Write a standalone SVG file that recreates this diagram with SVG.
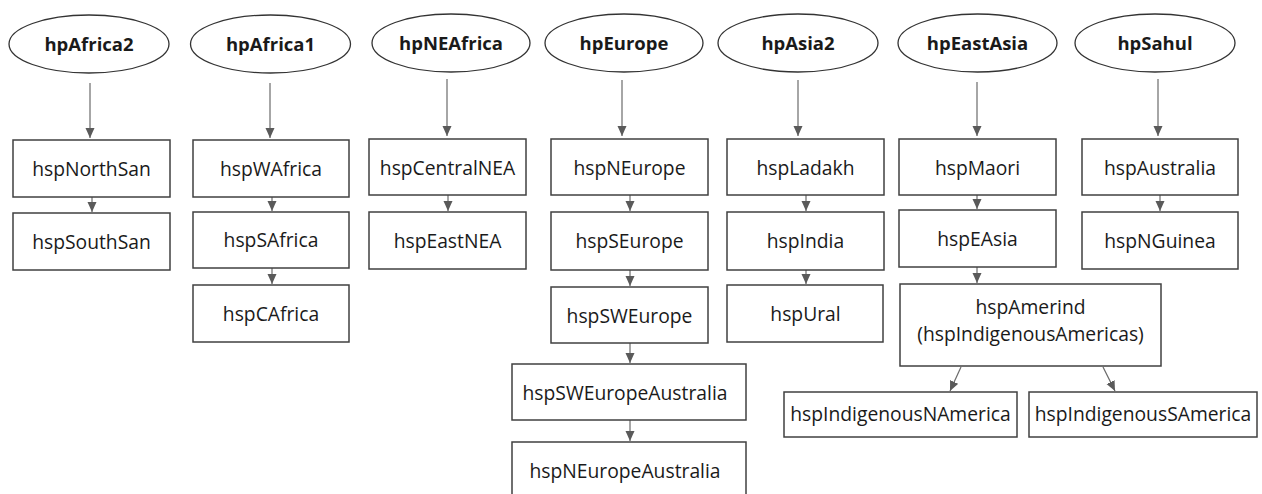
<svg xmlns="http://www.w3.org/2000/svg" width="1262" height="494" viewBox="0 0 1262 494">
<defs>
<style>
.ell{fill:#fff;stroke:#333;stroke-width:1.3}
.box{fill:#fff;stroke:#404040;stroke-width:1.5}
.hp{font-family:"Open Sans","DejaVu Sans",sans-serif;font-weight:bold;font-size:18.5px;fill:#1a1a1a;text-anchor:middle}
.hsp{font-family:"Open Sans","DejaVu Sans",sans-serif;font-size:19.3px;fill:#1a1a1a;text-anchor:middle}
.edge{stroke:#6b6b6b;stroke-width:1.2;fill:none;marker-end:url(#ah)}
</style>
<marker id="ah" markerUnits="userSpaceOnUse" markerWidth="10" markerHeight="10" viewBox="0 0 10 10" refX="10" refY="5" orient="auto">
<path d="M0,0.5 L10,5 L0,9.5 Z" fill="#5a5a5a"/>
</marker>
</defs>
<rect width="1262" height="494" fill="#fff"/>
<g id="connectors">
<line class="edge" x1="90" y1="83" x2="90" y2="138"/>
<line class="edge" x1="270" y1="83" x2="270" y2="138"/>
<line class="edge" x1="447" y1="79" x2="447" y2="136"/>
<line class="edge" x1="622" y1="80" x2="622" y2="136"/>
<line class="edge" x1="798" y1="80" x2="798" y2="136"/>
<line class="edge" x1="977" y1="82" x2="977" y2="136"/>
<line class="edge" x1="1158" y1="79" x2="1158" y2="136"/>
<line class="edge" x1="92" y1="197" x2="92" y2="212"/>
<line class="edge" x1="272" y1="197" x2="272" y2="211"/>
<line class="edge" x1="272" y1="268" x2="272" y2="284"/>
<line class="edge" x1="448" y1="195" x2="448" y2="211"/>
<line class="edge" x1="630" y1="195" x2="630" y2="211"/>
<line class="edge" x1="630" y1="270" x2="630" y2="286"/>
<line class="edge" x1="630" y1="343" x2="630" y2="363"/>
<line class="edge" x1="630" y1="420" x2="630" y2="441"/>
<line class="edge" x1="806" y1="195" x2="806" y2="211"/>
<line class="edge" x1="806" y1="270" x2="806" y2="284"/>
<line class="edge" x1="977" y1="195" x2="977" y2="209"/>
<line class="edge" x1="977" y1="267" x2="977" y2="283"/>
<line class="edge" x1="961" y1="367" x2="950" y2="391"/>
<line class="edge" x1="1103" y1="367" x2="1115" y2="391"/>
<line class="edge" x1="1160" y1="195" x2="1160" y2="211"/>
</g>
<g id="hpAfrica2"><ellipse class="ell" cx="89" cy="44" rx="80" ry="29"/><text class="hp" x="89" y="51">hpAfrica2</text></g>
<g id="hpAfrica1"><ellipse class="ell" cx="270.5" cy="44" rx="80" ry="29"/><text class="hp" x="270.5" y="51">hpAfrica1</text></g>
<g id="hpNEAfrica"><ellipse class="ell" cx="451" cy="43" rx="79" ry="29"/><text class="hp" x="451" y="50">hpNEAfrica</text></g>
<g id="hpEurope"><ellipse class="ell" cx="624" cy="43" rx="79" ry="29"/><text class="hp" x="624" y="50">hpEurope</text></g>
<g id="hpAsia2"><ellipse class="ell" cx="798" cy="43" rx="80" ry="29"/><text class="hp" x="798" y="50">hpAsia2</text></g>
<g id="hpEastAsia"><ellipse class="ell" cx="977.5" cy="43" rx="79.5" ry="29"/><text class="hp" x="977.5" y="50">hpEastAsia</text></g>
<g id="hpSahul"><ellipse class="ell" cx="1155" cy="43" rx="80" ry="29"/><text class="hp" x="1155" y="50">hpSahul</text></g>

<g id="hspNorthSan"><rect class="box" x="13" y="140" width="157" height="57"/><text class="hsp" x="91.5" y="176">hspNorthSan</text></g>
<g id="hspSouthSan"><rect class="box" x="13" y="213" width="157" height="57"/><text class="hsp" x="91.5" y="249">hspSouthSan</text></g>
<g id="hspWAfrica"><rect class="box" x="193" y="140" width="156" height="57"/><text class="hsp" x="271" y="176">hspWAfrica</text></g>
<g id="hspSAfrica"><rect class="box" x="193" y="212" width="156" height="56"/><text class="hsp" x="271" y="247">hspSAfrica</text></g>
<g id="hspCAfrica"><rect class="box" x="193" y="285" width="156" height="57"/><text class="hsp" x="271" y="321">hspCAfrica</text></g>
<g id="hspCentralNEA"><rect class="box" x="369" y="139" width="157" height="56"/><text class="hsp" x="447.5" y="175">hspCentralNEA</text></g>
<g id="hspEastNEA"><rect class="box" x="369" y="212" width="157" height="57"/><text class="hsp" x="447.5" y="248">hspEastNEA</text></g>
<g id="hspNEurope"><rect class="box" x="551" y="139" width="157" height="56"/><text class="hsp" x="629.5" y="175">hspNEurope</text></g>
<g id="hspSEurope"><rect class="box" x="551" y="212" width="157" height="58"/><text class="hsp" x="629.5" y="248">hspSEurope</text></g>
<g id="hspSWEurope"><rect class="box" x="551" y="287" width="157" height="56"/><text class="hsp" x="629.5" y="323">hspSWEurope</text></g>
<g id="hspSWEuropeAustralia"><rect class="box" x="512" y="364" width="234" height="56"/><text class="hsp" x="625" y="400">hspSWEuropeAustralia</text></g>
<g id="hspNEuropeAustralia"><rect class="box" x="512" y="442" width="234" height="57"/><text class="hsp" x="625" y="478">hspNEuropeAustralia</text></g>
<g id="hspLadakh"><rect class="box" x="727" y="139" width="157" height="56"/><text class="hsp" x="805.5" y="175">hspLadakh</text></g>
<g id="hspIndia"><rect class="box" x="727" y="212" width="157" height="58"/><text class="hsp" x="805.5" y="248">hspIndia</text></g>
<g id="hspUral"><rect class="box" x="727" y="285" width="156" height="57"/><text class="hsp" x="805.5" y="321">hspUral</text></g>
<g id="hspMaori"><rect class="box" x="899" y="139" width="157" height="56"/><text class="hsp" x="977.5" y="175">hspMaori</text></g>
<g id="hspEAsia"><rect class="box" x="899" y="210" width="157" height="57"/><text class="hsp" x="977.5" y="246">hspEAsia</text></g>
<g id="hspAmerind"><rect class="box" x="900" y="284" width="261" height="82"/><text class="hsp" x="1030.5" y="314">hspAmerind</text><text class="hsp" x="1030.5" y="341">(hspIndigenousAmericas)</text></g>
<g id="hspIndigenousNAmerica"><rect class="box" x="784" y="392" width="233" height="45"/><text class="hsp" x="900.5" y="421">hspIndigenousNAmerica</text></g>
<g id="hspIndigenousSAmerica"><rect class="box" x="1029" y="392" width="228" height="45"/><text class="hsp" x="1143" y="421">hspIndigenousSAmerica</text></g>
<g id="hspAustralia"><rect class="box" x="1082" y="139" width="156" height="56"/><text class="hsp" x="1160" y="175">hspAustralia</text></g>
<g id="hspNGuinea"><rect class="box" x="1082" y="212" width="156" height="57"/><text class="hsp" x="1160" y="248">hspNGuinea</text></g>
</svg>
